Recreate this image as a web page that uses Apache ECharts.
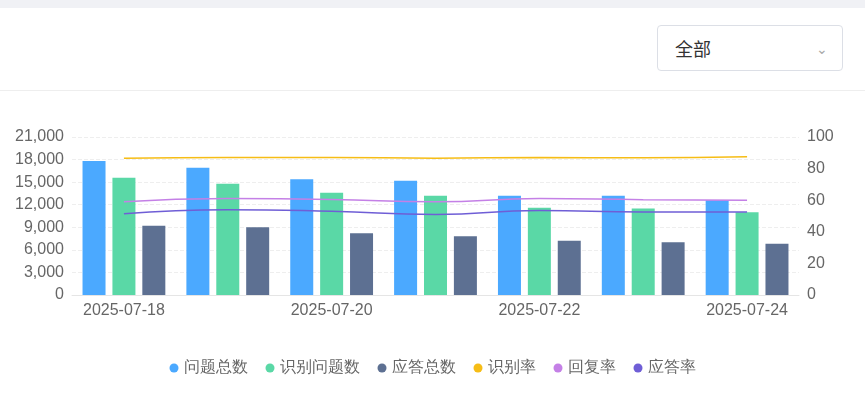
<!DOCTYPE html>
<html>
<head>
<meta charset="utf-8" />
<script src="https://cdn.jsdelivr.net/npm/echarts@6/dist/echarts.min.js"></script>
<style>
  body { margin: 0; background: #fff; font-family: "Noto Sans CJK SC", "Noto Sans", sans-serif; }
  .topbar { height: 8px; background: #f0f1f5; }
  .head { height: 82px; border-bottom: 1px solid #eee; position: relative; }
  .sel { position: absolute; left: 657px; top: 17px; width: 186px; height: 46px; border: 1px solid #dcdfe6;
    border-radius: 4px; box-sizing: border-box; font-size: 18px; color: #333; line-height: 44px; padding-left: 17px; }
  .sel span { position: absolute; right: 14px; top: 0; color: #aaa; font-size: 14px; }
  #chart { position: absolute; left: 0; top: 91px; width: 865px; height: 314px; }
</style>
</head>
<body>
<div class="topbar"></div>
<div class="head"><div class="sel">全部<span>&#8964;</span></div></div>
<div id="chart"></div>
<script>
  const dates = ["2025-07-18", "2025-07-19", "2025-07-20", "2025-07-21", "2025-07-22", "2025-07-23", "2025-07-24"];
  const totalQ = [17800, 16900, 15400, 15200, 13200, 13200, 12600];
  const recogQ = [15600, 14800, 13600, 13200, 11600, 11500, 11000];
  const answers = [9200, 9000, 8200, 7800, 7200, 7000, 6800];
  const recogRate = [86.5, 87, 87, 86.6, 87, 86.8, 87.5];
  const replyRate = [59, 61, 60.5, 59, 61, 60.3, 60];
  const answerRate = [51.5, 54, 53, 51, 53.5, 52.5, 52.5];

  const chart = echarts.init(document.getElementById("chart"));
  const axisText = { color: "#666", fontSize: 16 };
  const line = (name, data, color) => ({
    name, type: "line", yAxisIndex: 1, data, smooth: true, showSymbol: false,
    lineStyle: { width: 1.5, color }, itemStyle: { color }
  });
  const bar = (name, data, color) => ({ name, type: "bar", data, barWidth: 23, barGap: "30%", itemStyle: { color } });
  chart.setOption({
    grid: { left: 72, right: 66, top: 46, bottom: 110 },
    legend: {
      bottom: 24, icon: "circle", itemWidth: 9, itemHeight: 9, itemGap: 18,
      textStyle: { color: "#666", fontSize: 16 }
    },
    xAxis: {
      type: "category", data: dates,
      axisLine: { lineStyle: { color: "#e5e5e5" } }, axisTick: { show: false },
      axisLabel: { ...axisText, interval: 1 }
    },
    yAxis: [
      { type: "value", min: 0, max: 21000, interval: 3000, axisLabel: axisText,
        splitLine: { lineStyle: { type: "dashed", color: "#eee" } } },
      { type: "value", min: 0, max: 100, interval: 20, axisLabel: axisText, splitLine: { show: false } }
    ],
    series: [
      bar("问题总数", totalQ, "#4ba9ff"),
      bar("识别问题数", recogQ, "#5ad8a6"),
      bar("应答总数", answers, "#5d7092"),
      line("识别率", recogRate, "#f6bd16"),
      line("回复率", replyRate, "#c480e6"),
      line("应答率", answerRate, "#6f5ed6")
    ]
  });
</script>
</body>
</html>
